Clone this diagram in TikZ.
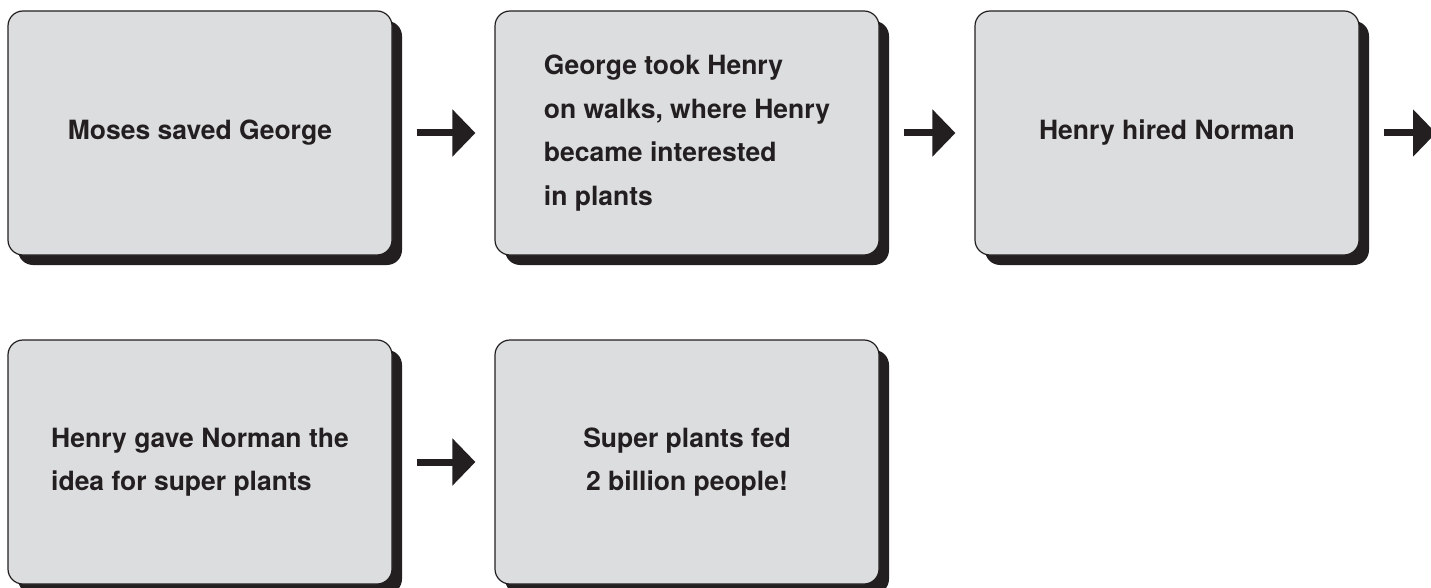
\documentclass[tikz,border=0pt]{standalone}
\usepackage{fontspec}
\setmainfont{TeX Gyre Heros}
\usetikzlibrary{arrows.meta, positioning, shadows}

\definecolor{ink}{HTML}{231F20}
\definecolor{cardgray}{HTML}{DCDDDE}

\begin{document}
\begin{tikzpicture}[x=1pt, y=-1pt, node distance=487pt, on grid,
  card/.style={rectangle, rounded corners=15pt, draw=ink, line width=1.2pt,
    fill=cardgray, minimum width=384pt, minimum height=244pt, align=left,
    text=ink, font=\fontsize{26.5}{43.5}\selectfont\bfseries,
    drop shadow={shadow xshift=10pt, shadow yshift=-10pt, fill=ink, opacity=1}},
  flow/.style={line width=7pt, draw=ink, -{Triangle[length=23pt, width=46pt]},
    shorten <=24pt, shorten >=19pt}]
  \useasboundingbox (0,0) rectangle (1431,588);
  % first row
  \node[card] (moses) at (200,133) {Moses saved George};
  \node[card] (walks) [right=of moses] {George took Henry\\on walks, where Henry\\became interested\\in plants};
  \node[card] (hired) [right=480pt of walks] {Henry hired Norman};
  \coordinate (next) at (1436,133);
  % second row
  \node[card] (idea) [below=329pt of moses] {Henry gave Norman the\\idea for super plants};
  \node[card, align=center] (fed) [right=of idea] {Super plants fed\\2 billion people!};
  \draw[flow] (moses) -- (walks);
  \draw[flow] (walks) -- (hired);
  \draw[flow, shorten >=0pt] (hired) -- (next);
  \draw[flow] (idea) -- (fed);
\end{tikzpicture}
\end{document}
